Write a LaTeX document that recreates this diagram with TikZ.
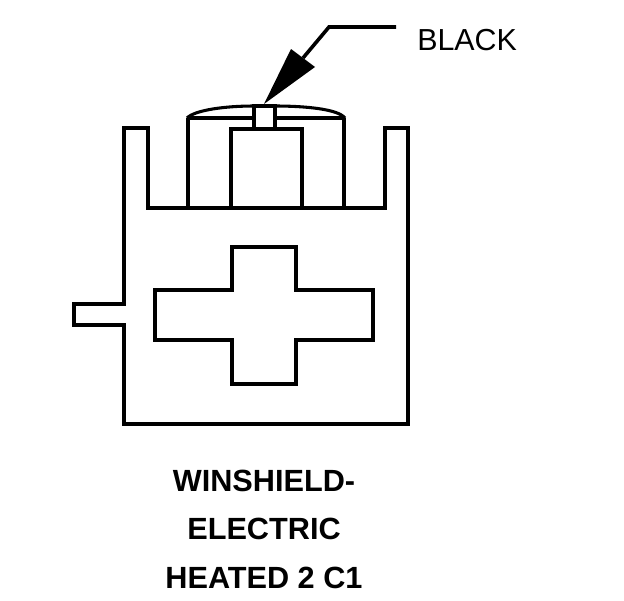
\documentclass[tikz,border=0pt]{standalone}
\usepackage{fontspec}
\setmainfont{Liberation Sans}
\tikzset{px/.style={x=0.75pt,y=-0.75pt},ln/.style={line width=2.7pt,line join=miter,line cap=butt},lab/.style={inner sep=0pt,font=\fontsize{22.8}{26}\selectfont},captext/.style={inner sep=0pt,font=\fontsize{23}{26}\selectfont\bfseries}}
\begin{document}
\begin{tikzpicture}[px]
\useasboundingbox (0,0) rectangle (624,600);
\fill[white] (0,0) rectangle (624,600);
\draw[ln] (124,304) -- (124,128) -- (148,128) -- (148,208) -- (385,208) -- (385,128) -- (408,128) -- (408,424) -- (124,424) -- (124,325) -- (74,325) -- (74,304) -- cycle;
\fill[white] (126,306) rectangle (122,323);
\draw[ln] (232,247) -- (296,247) -- (296,290) -- (373,290) -- (373,340) -- (296,340) -- (296,384) -- (232,384) -- (232,340) -- (155,340) -- (155,290) -- (232,290) -- cycle;
\draw[ln] (188,208) -- (188,118) (344,208) -- (344,118) (231,208) -- (231,129) -- (302,129) -- (302,208);
\draw[ln] (188,118) -- (254,118) (275,118) -- (344,118);
\draw[ln] (254,129) -- (254,106) -- (275,106) -- (275,129);
\draw[line width=2.3pt] (187,118) .. controls (195,110) and (225,106) .. (254,106);
\draw[line width=2.3pt] (275,106) .. controls (305,106) and (338,109) .. (345,118);
\coordinate (tip) at (264,104);
\coordinate (knee) at (329,27);
\coordinate (end) at (396,27);
\fill (tip) -- (291,49) -- (315,67) -- cycle;
\draw[line width=2.7pt] (303,58) -- (knee) -- (end);
\node[lab,anchor=west] (black) at (417,40) {BLACK};
\node[captext] (t1) at (264,481) {WINSHIELD-};
\node[captext] (t2) at (264,529) {ELECTRIC};
\node[captext] (t3) at (264,578) {HEATED 2 C1};
\end{tikzpicture}
\end{document}
